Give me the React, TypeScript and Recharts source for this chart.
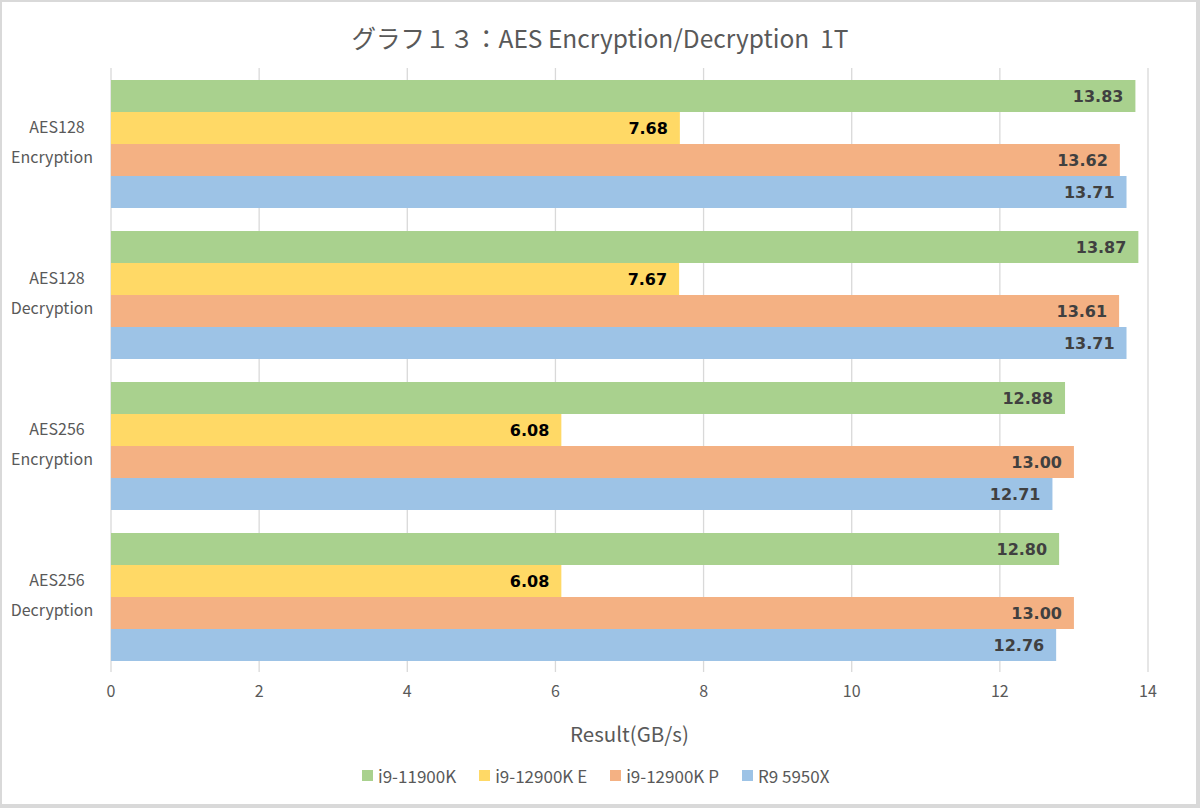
import React from "react";
import { BarChart, Bar, XAxis, YAxis, CartesianGrid, LabelList } from "recharts";

const categories = ["AES128|Encryption", "AES128|Decryption", "AES256|Encryption", "AES256|Decryption"];
const seriesNames = ["i9-11900K", "i9-12900K E", "i9-12900K P", "R9 5950X"];
const i9_11900K = [13.83, 13.87, 12.88, 12.8];
const i9_12900K_E = [7.68, 7.67, 6.08, 6.08];
const i9_12900K_P = [13.62, 13.61, 13.0, 13.0];
const R9_5950X = [13.71, 13.71, 12.71, 12.76];
const xTicks = [0, 2, 4, 6, 8, 10, 12, 14];

const colors = ["#A9D18E", "#FFD966", "#F4B183", "#9DC3E6"];
const labelColors = ["#404040", "#000000", "#404040", "#404040"];
const keys = ["s0", "s1", "s2", "s3"];

const data = categories.map((c, i) => ({
  cat: c,
  s0: i9_11900K[i],
  s1: i9_12900K_E[i],
  s2: i9_12900K_P[i],
  s3: R9_5950X[i],
}));

const FONT = "'Noto Sans CJK JP', 'Noto Sans', sans-serif";

const YTick = (props: any) => {
  const { y, payload } = props;
  const [a, b] = String(payload.value).split("|");
  return (
    <g>
      <text x={57} y={y - 11} textAnchor="middle" fill="#595959" fontSize={16} fontFamily={FONT}>{a}</text>
      <text x={52} y={y + 19} textAnchor="middle" fill="#595959" fontSize={16} fontFamily={FONT}>{b}</text>
    </g>
  );
};

export default function App() {
  return (
    <div style={{ position: "fixed", left: 0, top: 0, width: 1200, height: 808, background: "#D9D9D9" }}>
      <div style={{ position: "absolute", left: 2, top: 2, width: 1194, height: 802, background: "#FFFFFF" }} />
      <div style={{ position: "absolute", left: 0, top: 20, width: 1200, textAlign: "center", fontFamily: FONT, fontSize: 24.5, color: "#595959", whiteSpace: "pre" }}>
        {"グラフ１３：AES Encryption/Decryption  1T"}
      </div>
      <div style={{ position: "absolute", left: 0, top: 0 }}>
        <BarChart
          width={1200}
          height={808}
          data={data}
          layout="vertical"
          margin={{ top: 68, right: 52, bottom: 106, left: 0 }}
          barCategoryGap={11}
          barGap={0}
        >
          <CartesianGrid vertical horizontal={false} stroke="#D9D9D9" strokeWidth={1.3} />
          <XAxis
            type="number"
            domain={[0, 14]}
            ticks={xTicks}
            axisLine={false}
            tickLine={false}
            tickSize={0}
            tickMargin={14}
            height={30}
            tick={{ fill: "#595959", fontSize: 16, fontFamily: FONT }}
          />
          <YAxis
            type="category"
            dataKey="cat"
            width={111}
            axisLine={false}
            tickLine={false}
            tick={<YTick />}
          />
          {keys.map((k, i) => (
            <Bar key={k} dataKey={k} fill={colors[i]} isAnimationActive={false} barSize={32}>
              <LabelList
                dataKey={k}
                position="insideRight"
                offset={12}
                formatter={(v: any) => Number(v).toFixed(2)}
                style={{ fill: labelColors[i], fontSize: 16, fontWeight: 700, fontFamily: "'DejaVu Sans', sans-serif" }}
              />
            </Bar>
          ))}
        </BarChart>
      </div>
      <div style={{ position: "absolute", left: 111, top: 718, width: 1037, textAlign: "center", fontFamily: FONT, fontSize: 20.5, color: "#595959" }}>
        Result(GB/s)
      </div>
      <div style={{ position: "absolute", left: 362, top: 763, display: "flex", fontFamily: FONT, fontSize: 17, color: "#595959", whiteSpace: "nowrap" }}>
        {seriesNames.map((n, i) => (
          <div key={n} style={{ display: "flex", alignItems: "center", marginLeft: i === 0 ? 0 : 23 }}>
            <span style={{ display: "inline-block", width: 11, height: 11, background: colors[i], marginRight: 5 }} />
            <span>{n}</span>
          </div>
        ))}
      </div>
    </div>
  );
}
